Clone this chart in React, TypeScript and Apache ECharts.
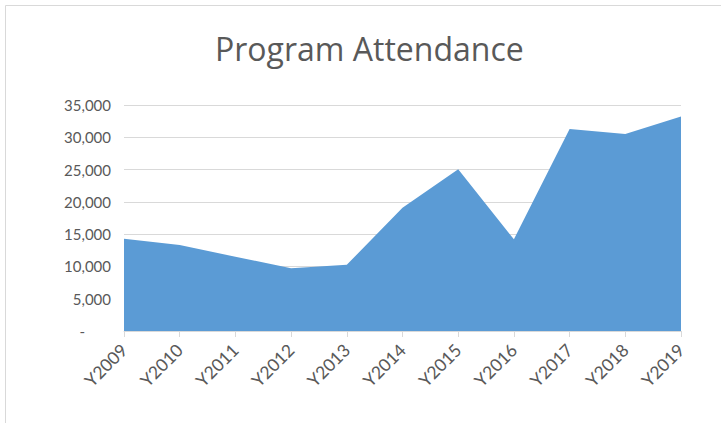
import React, { useEffect, useRef } from "react";
import * as echarts from "echarts";

const categories = ["Y2009", "Y2010", "Y2011", "Y2012", "Y2013", "Y2014", "Y2015", "Y2016", "Y2017", "Y2018", "Y2019"];
const attendance = [14300, 13300, 11500, 9700, 10250, 19100, 25050, 14200, 31300, 30500, 33200];
const chartTitle = "Program Attendance";
const yMax = 35000;
const yStep = 5000;

const FONT = "Lato";

export default function App() {
  const ref = useRef<HTMLDivElement>(null);
  useEffect(() => {
    if (!ref.current) return;
    const chart = echarts.init(ref.current, null, { renderer: "svg" });
    chart.setOption({
      animation: false,
      backgroundColor: "#ffffff",
      title: {
        text: chartTitle,
        left: 210,
        top: 27,
        textStyle: { fontFamily: "Open Sans", fontSize: 32, fontWeight: "normal", color: "#595959" },
      },
      graphic: [
        {
          type: "rect",
          shape: { x: 5.5, y: 5.5, width: 730, height: 430 },
          style: { fill: "none", stroke: "#d9d9d9", lineWidth: 1 },
          silent: true,
        },
      ],
      grid: { left: 124, right: 40, top: 105, bottom: 92 },
      xAxis: {
        type: "category",
        data: categories,
        boundaryGap: false,
        axisLine: { lineStyle: { color: "#d9d9d9", width: 1 } },
        axisTick: { show: true, length: 6, lineStyle: { color: "#d9d9d9" } },
        axisLabel: {
          rotate: 45,
          margin: 16,
          fontFamily: FONT,
          fontSize: 17.5,
          color: "#595959",
          interval: 0,
        },
      },
      yAxis: {
        type: "value",
        min: 0,
        max: yMax,
        interval: yStep,
        axisLine: { show: false },
        axisTick: { show: false },
        splitLine: { lineStyle: { color: "#d9d9d9", width: 1 } },
        axisLabel: {
          margin: 13,
          fontFamily: FONT,
          fontSize: 15,
          color: "#595959",
          formatter: (v: number) => (v === 0 ? "{dash|-}" : v.toLocaleString("en-US")),
          rich: { dash: { fontFamily: FONT, fontSize: 15, color: "#595959", padding: [0, 26, 0, 0] } },
        },
      },
      series: [
        {
          type: "line",
          data: attendance,
          symbol: "none",
          lineStyle: { width: 0, color: "#5b9bd5" },
          itemStyle: { color: "#5b9bd5" },
          areaStyle: { color: "#5b9bd5", opacity: 1 },
        },
      ],
    });
    return () => chart.dispose();
  }, []);
  return <div ref={ref} style={{ position: "fixed", left: 0, top: 0, width: 721, height: 423 }} />;
}
